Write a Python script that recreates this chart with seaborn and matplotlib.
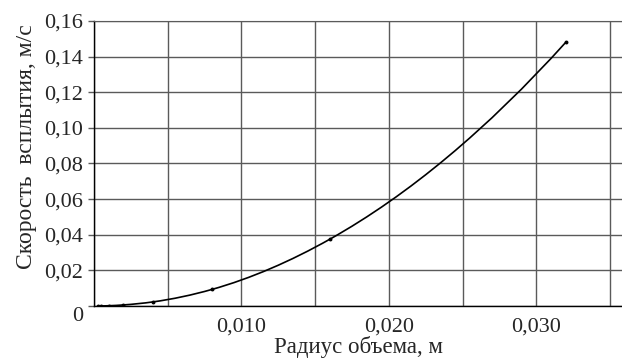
import numpy as np
import pandas as pd
import matplotlib
matplotlib.use("Agg")
import matplotlib.pyplot as plt
import seaborn as sns
from matplotlib.path import Path
from matplotlib.patches import PathPatch
from matplotlib.ticker import MultipleLocator, FuncFormatter
import matplotlib.transforms as mtransforms

# Data
radius = [0.00025, 0.0005, 0.001, 0.002, 0.004, 0.008, 0.016, 0.032]
speed = [0.00001, 0.00004, 0.00015, 0.0006, 0.0023, 0.0093, 0.0375, 0.148]
x_label = "Радиус объема, м"
y_label = "Скорость  всплытия, м/с"

df = pd.DataFrame({"r": radius, "v": speed})

sns.set_style("white")
plt.rcParams["font.family"] = ["Liberation Serif", "DejaVu Serif"]
plt.rcParams["font.size"] = 16

fig = plt.figure(figsize=(6.22, 3.62), dpi=100)
W, H = 622, 362
left, right, top, bottom = 94, 622, 21, 306
ax = fig.add_axes([left / W, 1 - bottom / H, (right - left) / W, (bottom - top) / H])

# smooth line through the data points (cubic Hermite drawn as Bezier segments)
xs = np.array(radius)
ys = np.array(speed)
n = len(xs)
m = np.zeros(n)
for i in range(n):
    if 0 < i < n - 1:
        h0 = xs[i] - xs[i - 1]
        h1 = xs[i + 1] - xs[i]
        d0 = (ys[i] - ys[i - 1]) / h0
        d1 = (ys[i + 1] - ys[i]) / h1
        m[i] = (h1 * d0 + h0 * d1) / (h0 + h1)
    elif i == 0:
        m[i] = (ys[1] - ys[0]) / (xs[1] - xs[0])
    else:
        h0 = xs[i - 1] - xs[i - 2]
        h1 = xs[i] - xs[i - 1]
        d0 = (ys[i - 1] - ys[i - 2]) / h0
        d1 = (ys[i] - ys[i - 1]) / h1
        m[i] = d1 + (d1 - d0) * h1 / (h0 + h1)
verts = [(xs[0], ys[0])]
codes = [Path.MOVETO]
for i in range(n - 1):
    h = xs[i + 1] - xs[i]
    c1 = (xs[i] + h / 3, ys[i] + m[i] * h / 3)
    c2 = (xs[i + 1] - h / 3, ys[i + 1] - m[i + 1] * h / 3)
    verts += [c1, c2, (xs[i + 1], ys[i + 1])]
    codes += [Path.CURVE4] * 3
ax.add_patch(PathPatch(Path(verts, codes), facecolor="none", edgecolor="black", lw=1.2, zorder=3))

sns.scatterplot(data=df, x="r", y="v", ax=ax, color="black", s=8, edgecolor="black", linewidth=0, zorder=4)

ax.set_xlim(0, 0.03582)
ax.set_ylim(0, 0.16)
ax.xaxis.set_major_locator(MultipleLocator(0.005))
ax.yaxis.set_major_locator(MultipleLocator(0.02))


def xfmt(v, pos):
    k = int(round(v / 0.005))
    if k == 0 or k % 2 == 1:
        return ""
    return f"{v:.3f}".replace(".", ",")


def yfmt(v, pos):
    if abs(v) < 1e-9:
        return "0"
    return f"{v:.2f}".replace(".", ",")


ax.xaxis.set_major_formatter(FuncFormatter(xfmt))
ax.yaxis.set_major_formatter(FuncFormatter(yfmt))

ax.grid(True, color="#5a5a5a", lw=1.0)
ax.set_axisbelow(True)
for s in ["left", "bottom"]:
    ax.spines[s].set_color("black")
    ax.spines[s].set_linewidth(1.0)
ax.spines["top"].set_color("#5a5a5a")
ax.spines["right"].set_visible(False)

ax.tick_params(axis="y", which="major", length=4, width=1, color="#5a5a5a", pad=4, labelsize=16, left=True)
ax.tick_params(axis="x", which="major", length=0, pad=8, labelsize=16, bottom=True)

# shift the "0" label down like in the reference
fig.canvas.draw()
offset = mtransforms.ScaledTranslation(0, -8 / 100, fig.dpi_scale_trans)
for lab in ax.get_yticklabels():
    if lab.get_text() == "0":
        lab.set_transform(lab.get_transform() + offset)

ax.set_xlabel(x_label, fontsize=16.5, labelpad=0)
ax.set_ylabel(y_label, fontsize=17)
ax.yaxis.set_label_coords(-0.108, 0.558)

fig.savefig("out.png", dpi=100)
